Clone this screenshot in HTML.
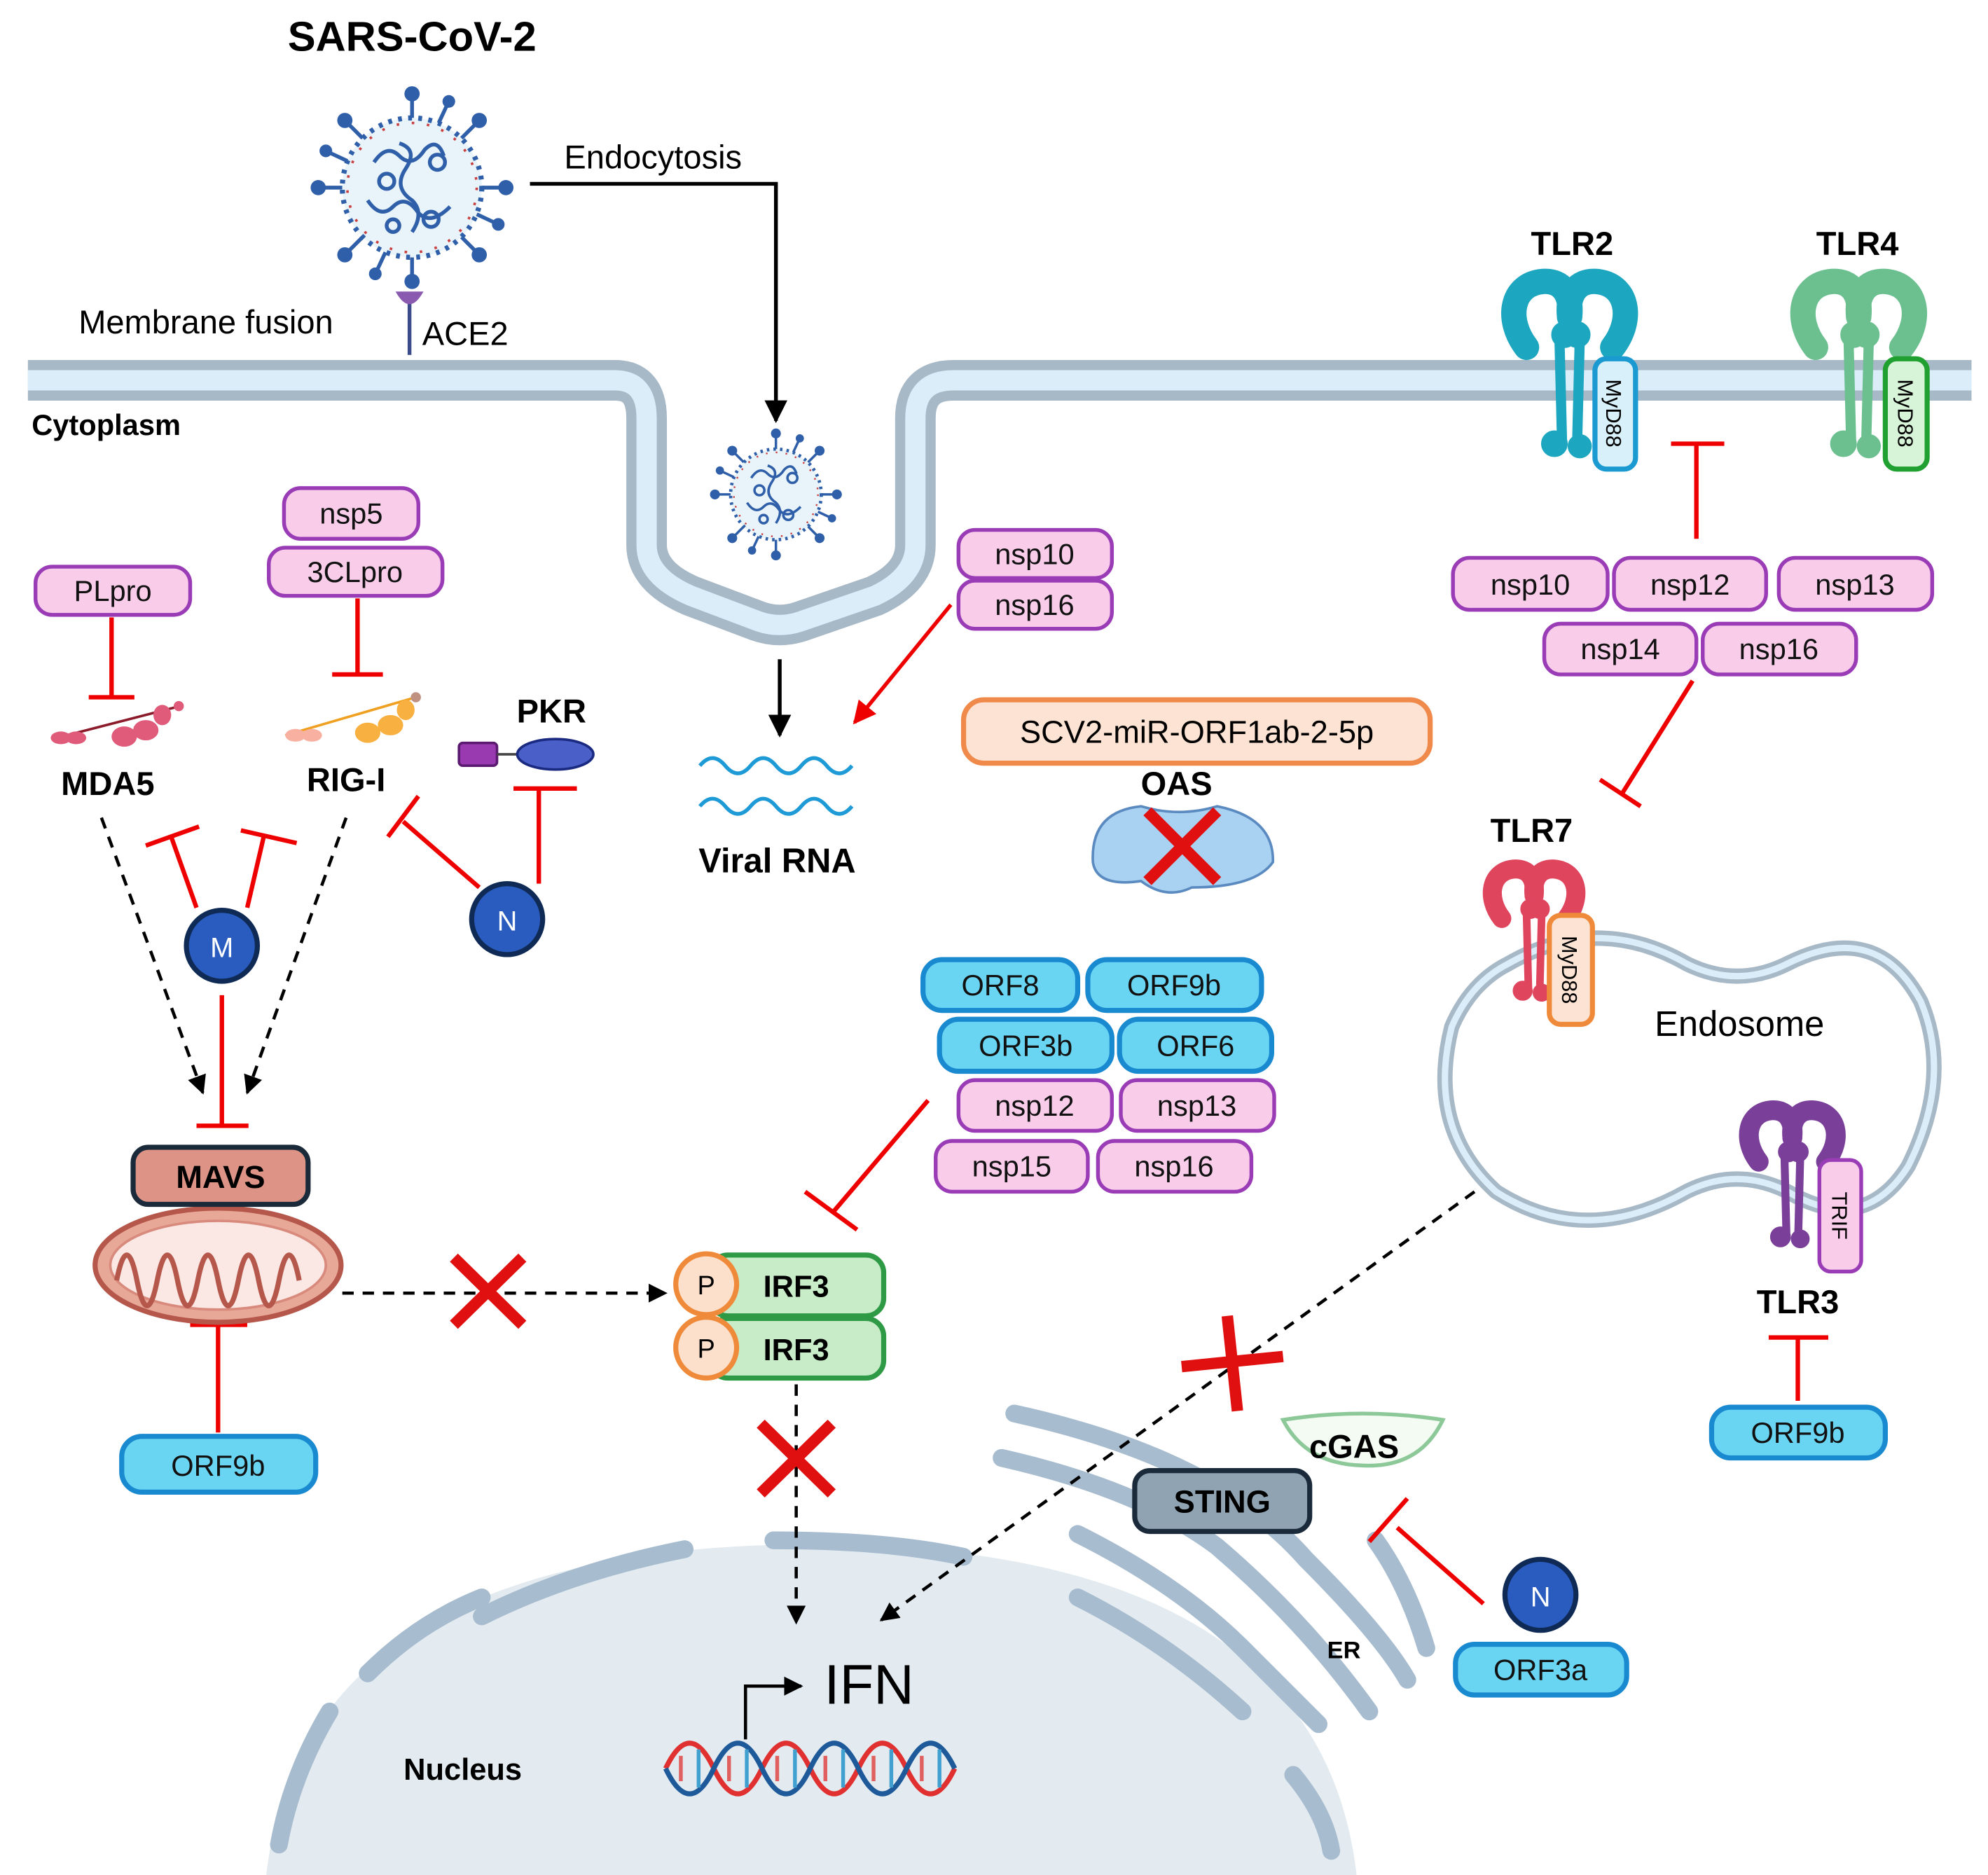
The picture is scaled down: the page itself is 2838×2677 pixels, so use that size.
<!DOCTYPE html>
<html><head><meta charset="utf-8"><style>
html,body{margin:0;padding:0;background:#fff}
svg{display:block}
text{font-family:"Liberation Sans",Arial,sans-serif}
.b{font-weight:bold}
</style></head><body>
<svg width="2838" height="2677" viewBox="0 0 1568 1479" preserveAspectRatio="none" xmlns="http://www.w3.org/2000/svg">
<defs>
<g id="tlr">
<path d="M22,62 C5,40 10,12 35,10 C50,9 58,20 56,38" fill="none" stroke-width="20" stroke-linecap="round"/>
<path d="M90,62 C107,40 102,12 77,10 C62,9 54,20 56,38" fill="none" stroke-width="20" stroke-linecap="round"/>
<circle cx="52" cy="52" r="10"/><circle cx="62" cy="52" r="10"/>
<path d="M48,55 L50,135 M64,55 L62,135" stroke-width="8" fill="none"/>
<circle cx="44" cy="138" r="10"/><circle cx="64" cy="140" r="9"/>
</g>
<marker id="ah" viewBox="0 0 10 10" refX="9" refY="5" markerWidth="6" markerHeight="6" orient="auto"><path d="M0,0 L10,5 L0,10z" fill="#000"/></marker>
<marker id="ahr" viewBox="0 0 10 10" refX="9" refY="5" markerWidth="6" markerHeight="6" orient="auto"><path d="M0,0 L10,5 L0,10z" fill="#e00"/></marker>
<g id="virus">
<g stroke="#2f5fa8" stroke-width="3">
<line x1="0" y1="-55" x2="0" y2="-72"/><line x1="0" y1="55" x2="0" y2="72"/><line x1="-55" y1="0" x2="-72" y2="0"/><line x1="55" y1="0" x2="72" y2="0"/>
<line x1="39" y1="39" x2="51" y2="51"/><line x1="-39" y1="39" x2="-51" y2="51"/><line x1="39" y1="-39" x2="51" y2="-51"/><line x1="-39" y1="-39" x2="-51" y2="-51"/>
<line x1="21" y1="-51" x2="28" y2="-66"/><line x1="-21" y1="51" x2="-28" y2="66"/><line x1="51" y1="21" x2="66" y2="28"/><line x1="-51" y1="-21" x2="-66" y2="-28"/>
</g>
<g fill="#2f5fa8">
<circle cx="0" cy="-74" r="6"/><circle cx="0" cy="74" r="6"/><circle cx="-74" cy="0" r="6"/><circle cx="74" cy="0" r="6"/>
<circle cx="53" cy="53" r="6"/><circle cx="-53" cy="53" r="6"/><circle cx="53" cy="-53" r="6"/><circle cx="-53" cy="-53" r="6"/>
<circle cx="29" cy="-68" r="5"/><circle cx="-29" cy="68" r="5"/><circle cx="68" cy="29" r="5"/><circle cx="-68" cy="-29" r="5"/>
</g>
<circle r="55" fill="#e8f3fa" stroke="#2f5fa8" stroke-width="4" stroke-dasharray="3 5"/>
<circle r="51" fill="none" stroke="#c94040" stroke-width="2" stroke-dasharray="2 10"/>
<g fill="none" stroke="#2f5fa8" stroke-width="3">
<path d="M-30,-20 q10,-15 20,-5 q10,10 20,-5 q10,-10 15,5"/>
<path d="M-35,10 q10,15 20,5 q10,-10 20,5 q10,10 25,-5"/>
<path d="M-10,-35 q15,5 5,20 q-10,15 5,25 q10,10 0,25"/>
<circle cx="-20" cy="-5" r="6"/><circle cx="20" cy="-20" r="6"/><circle cx="15" cy="25" r="6"/><circle cx="-15" cy="30" r="5"/>
</g>
</g>
</defs>

<!-- nucleus -->
<path d="M210,1479 Q240,1220 640,1218 Q1040,1220 1070,1479 Z" fill="#e3ebf0"/>
<g fill="none" stroke="#a7bccf" stroke-width="14" stroke-linecap="round">
<path d="M220,1455 Q230,1400 260,1350"/>
<path d="M290,1320 Q330,1280 380,1260"/>
<path d="M380,1275 Q450,1240 540,1222"/>
<path d="M610,1215 Q700,1215 760,1228"/>
<path d="M850,1260 Q920,1295 980,1350"/>
<path d="M1020,1400 Q1045,1430 1050,1460"/>
</g>
<!-- ER -->
<g fill="none" stroke="#a7bccf" stroke-width="14" stroke-linecap="round">
<path d="M800,1115 Q960,1150 1030,1230 Q1090,1290 1110,1325"/>
<path d="M790,1150 Q900,1175 960,1220 Q1030,1280 1080,1350"/>
<path d="M850,1210 Q930,1250 980,1300 Q1020,1340 1040,1360"/>
<path d="M1085,1215 Q1110,1250 1125,1300"/>
</g>

<!-- membrane -->
<path d="M22,300 H485 Q510,300 510,330 V430 Q510,455 545,470 L598,490 Q615,496 632,490 L690,470 Q722,455 722,430 V330 Q722,300 752,300 H1555" fill="none" stroke="#a7b8c6" stroke-width="32"/>
<path d="M22,300 H485 Q510,300 510,330 V430 Q510,455 545,470 L598,490 Q615,496 632,490 L690,470 Q722,455 722,430 V330 Q722,300 752,300 H1555" fill="none" stroke="#dcedfa" stroke-width="16"/>

<!-- endosome -->
<path d="M1190,760 Q1260,720 1330,760 Q1370,780 1410,760 Q1480,725 1515,790 Q1540,850 1505,920 Q1470,975 1410,940 Q1370,920 1330,940 Q1250,985 1180,940 Q1125,890 1145,810 Q1160,775 1190,760 Z" fill="#fff" stroke="#a7b8c6" stroke-width="12"/>
<path d="M1190,760 Q1260,720 1330,760 Q1370,780 1410,760 Q1480,725 1515,790 Q1540,850 1505,920 Q1470,975 1410,940 Q1370,920 1330,940 Q1250,985 1180,940 Q1125,890 1145,810 Q1160,775 1190,760 Z" fill="none" stroke="#dcedfa" stroke-width="5"/>
<text x="1372" y="817" font-size="28" text-anchor="middle">Endosome</text>

<!-- title / virus -->
<text x="325" y="40" font-size="33" class="b" text-anchor="middle">SARS-CoV-2</text>
<use href="#virus" transform="translate(325,148)"/>
<use href="#virus" transform="translate(612,390) scale(0.65)"/>
<text x="445" y="133" font-size="26">Endocytosis</text>
<path d="M418,145 H612 V332" fill="none" stroke="#000" stroke-width="3" marker-end="url(#ah)"/>
<text x="62" y="263" font-size="26">Membrane fusion</text>
<line x1="323" y1="238" x2="323" y2="280" stroke="#3a4a8a" stroke-width="3"/>
<path d="M312,230 Q323,250 334,230 Z" fill="#8a5ab0"/>
<text x="333" y="272" font-size="26">ACE2</text>
<text x="25" y="343" font-size="23" class="b">Cytoplasm</text>

<!-- left pills -->
<g stroke="#9b3cb7" stroke-width="3" fill="#f9cdea">
<rect x="224" y="385" width="106" height="40" rx="13"/>
<rect x="212" y="432" width="137" height="38" rx="13"/>
<rect x="28" y="447" width="122" height="38" rx="13"/>
<rect x="756" y="418" width="121" height="38" rx="13"/>
<rect x="756" y="458" width="121" height="38" rx="13"/>
<rect x="1146" y="440" width="122" height="41" rx="13"/>
<rect x="1273" y="440" width="120" height="41" rx="13"/>
<rect x="1403" y="440" width="121" height="41" rx="13"/>
<rect x="1218" y="492" width="120" height="40" rx="13"/>
<rect x="1343" y="492" width="121" height="40" rx="13"/>
<rect x="756" y="852" width="121" height="40" rx="13"/>
<rect x="884" y="852" width="121" height="40" rx="13"/>
<rect x="738" y="900" width="120" height="40" rx="13"/>
<rect x="866" y="900" width="121" height="40" rx="13"/>
</g>
<g font-size="23" text-anchor="middle" fill="#111">
<text x="277" y="413">nsp5</text>
<text x="280" y="459">3CLpro</text>
<text x="89" y="474">PLpro</text>
<text x="816" y="445">nsp10</text>
<text x="816" y="485">nsp16</text>
<text x="1207" y="469">nsp10</text>
<text x="1333" y="469">nsp12</text>
<text x="1463" y="469">nsp13</text>
<text x="1278" y="520">nsp14</text>
<text x="1403" y="520">nsp16</text>
<text x="816" y="880">nsp12</text>
<text x="944" y="880">nsp13</text>
<text x="798" y="928">nsp15</text>
<text x="926" y="928">nsp16</text>
</g>
<!-- cyan pills -->
<g stroke="#1a8ad0" stroke-width="4" fill="#6ad5f2">
<rect x="728" y="757" width="122" height="40" rx="15"/>
<rect x="858" y="757" width="137" height="40" rx="15"/>
<rect x="741" y="804" width="136" height="41" rx="15"/>
<rect x="883" y="804" width="120" height="41" rx="15"/>
<rect x="96" y="1133" width="153" height="44" rx="16"/>
<rect x="1350" y="1110" width="137" height="40" rx="15"/>
<rect x="1148" y="1297" width="135" height="40" rx="15"/>
</g>
<g font-size="23" text-anchor="middle" fill="#111">
<text x="789" y="785">ORF8</text>
<text x="926" y="785">ORF9b</text>
<text x="809" y="833">ORF3b</text>
<text x="943" y="833">ORF6</text>
<text x="172" y="1164">ORF9b</text>
<text x="1418" y="1138">ORF9b</text>
<text x="1215" y="1325">ORF3a</text>
</g>

<!-- MDA5 / RIG-I / PKR -->
<g stroke="#8b1a2a" stroke-width="2"><line x1="45" y1="582" x2="138" y2="558"/></g>
<g fill="#e05a7a"><ellipse cx="48" cy="582" rx="8" ry="5"/><ellipse cx="60" cy="582" rx="8" ry="5"/><ellipse cx="98" cy="581" rx="10" ry="8"/><ellipse cx="115" cy="576" rx="10" ry="8"/><ellipse cx="128" cy="564" rx="7" ry="8"/><circle cx="141" cy="557" r="4"/></g>
<line x1="225" y1="580" x2="328" y2="550" stroke="#f0a020" stroke-width="2"/>
<g fill="#f8b040"><ellipse cx="233" cy="580" rx="8" ry="5" fill="#f8b0a0"/><ellipse cx="246" cy="580" rx="8" ry="5" fill="#f8b0a0"/><ellipse cx="290" cy="578" rx="10" ry="8"/><ellipse cx="308" cy="572" rx="10" ry="8"/><ellipse cx="320" cy="560" rx="7" ry="8"/><circle cx="328" cy="550" r="4" fill="#c09080"/></g>
<text x="85" y="627" font-size="26" class="b" text-anchor="middle">MDA5</text>
<text x="273" y="624" font-size="26" class="b" text-anchor="middle">RIG-I</text>
<text x="435" y="570" font-size="26" class="b" text-anchor="middle">PKR</text>
<rect x="362" y="586" width="30" height="18" rx="3" fill="#9a3ab0" stroke="#5a1a70" stroke-width="2"/>
<line x1="392" y1="595" x2="410" y2="595" stroke="#444" stroke-width="2"/>
<ellipse cx="438" cy="595" rx="30" ry="12" fill="#4a5fc8" stroke="#1a2a80" stroke-width="2"/>

<!-- viral RNA -->
<line x1="615" y1="520" x2="615" y2="580" stroke="#000" stroke-width="3" marker-end="url(#ah)"/>
<path d="M552,604 q10,-12 20,0 t20,0 t20,0 t20,0 t20,0 t20,0" fill="none" stroke="#1e9ad6" stroke-width="3"/>
<path d="M552,636 q10,-12 20,0 t20,0 t20,0 t20,0 t20,0 t20,0" fill="none" stroke="#1e9ad6" stroke-width="3"/>
<text x="613" y="688" font-size="27" class="b" text-anchor="middle">Viral RNA</text>
<line x1="750" y1="477" x2="674" y2="570" stroke="#e00" stroke-width="3" marker-end="url(#ahr)"/>

<!-- SCV2 / OAS -->
<rect x="760" y="552" width="368" height="50" rx="16" fill="#fde3d4" stroke="#f08a4b" stroke-width="4"/>
<text x="944" y="586" font-size="25" text-anchor="middle">SCV2-miR-ORF1ab-2-5p</text>
<text x="928" y="627" font-size="26" class="b" text-anchor="middle">OAS</text>
<path d="M862,680 Q860,640 900,636 Q930,645 960,636 Q1005,645 1004,680 Q990,700 940,700 Q920,710 900,695 Q865,700 862,680 Z" fill="#a9d2f2" stroke="#5a8ac0" stroke-width="2"/>
<g stroke="#e01010" stroke-width="9"><line x1="905" y1="640" x2="960" y2="695"/><line x1="960" y1="640" x2="905" y2="695"/></g>

<!-- inhibitions red -->
<g stroke="#e00" stroke-width="3.5" fill="none">
<path d="M88,487 V550 M70,550 H106"/>
<path d="M282,472 V532 M262,532 H302"/>
<path d="M155,716 L135,660 M115,667 L157,652"/>
<path d="M195,716 L208,660 M190,655 L234,665"/>
<path d="M175,785 V888 M155,888 H196"/>
<path d="M378,700 L318,648 M306,660 L330,628"/>
<path d="M425,697 V622 M405,622 H455"/>
<path d="M172,1130 V1045 M150,1045 H195"/>
<path d="M732,868 L658,955 M635,940 L676,970"/>
<path d="M1338,425 V350 M1318,350 H1360"/>
<path d="M1335,537 L1280,625 M1262,615 L1294,636"/>
<path d="M1418,1105 V1055 M1395,1055 H1442"/>
<path d="M1170,1265 L1102,1205 M1080,1216 L1110,1182"/>
</g>

<!-- dashed arrows -->
<g stroke="#000" stroke-width="2.5" stroke-dasharray="9 7" fill="none">
<line x1="80" y1="645" x2="160" y2="862" marker-end="url(#ah)"/>
<line x1="273" y1="645" x2="195" y2="862" marker-end="url(#ah)"/>
<line x1="270" y1="1020" x2="525" y2="1020" marker-end="url(#ah)"/>
<line x1="628" y1="1092" x2="628" y2="1280" marker-end="url(#ah)"/>
<line x1="1163" y1="940" x2="695" y2="1278" marker-end="url(#ah)"/>
</g>

<!-- M & N -->
<circle cx="175" cy="746" r="28" fill="#2a5cbf" stroke="#0e2a55" stroke-width="4"/>
<text x="175" y="755" font-size="22" fill="#fff" text-anchor="middle">M</text>
<circle cx="400" cy="725" r="28" fill="#2a5cbf" stroke="#0e2a55" stroke-width="4"/>
<text x="400" y="734" font-size="22" fill="#fff" text-anchor="middle">N</text>
<circle cx="1215" cy="1258" r="28" fill="#2a5cbf" stroke="#0e2a55" stroke-width="4"/>
<text x="1215" y="1267" font-size="22" fill="#fff" text-anchor="middle">N</text>

<!-- MAVS & mito -->
<ellipse cx="172" cy="998" rx="97" ry="45" fill="#e8a898" stroke="#b5574a" stroke-width="4"/>
<ellipse cx="172" cy="998" rx="85" ry="35" fill="#fbe8e4" stroke="#d88a7c" stroke-width="2"/>
<path d="M92,1010 q8,-40 16,0 t16,0 t16,0 t16,0 t16,0 t16,0 t16,0 t16,0 t16,0" fill="none" stroke="#b5574a" stroke-width="4"/>
<rect x="105" y="905" width="138" height="45" rx="12" fill="#dd9486" stroke="#1a2a3a" stroke-width="4"/>
<text x="174" y="937" font-size="25" class="b" text-anchor="middle">MAVS</text>
<g stroke="#e01010" stroke-width="9"><line x1="358" y1="992" x2="412" y2="1045"/><line x1="412" y1="992" x2="358" y2="1045"/></g>

<!-- IRF3 -->
<rect x="560" y="990" width="137" height="48" rx="14" fill="#c8ecc8" stroke="#2e9a45" stroke-width="4"/>
<rect x="560" y="1040" width="137" height="47" rx="14" fill="#c8ecc8" stroke="#2e9a45" stroke-width="4"/>
<text x="628" y="1023" font-size="24" class="b" text-anchor="middle">IRF3</text>
<text x="628" y="1073" font-size="24" class="b" text-anchor="middle">IRF3</text>
<circle cx="557" cy="1013" r="24" fill="#fde0cc" stroke="#f08a3b" stroke-width="4"/>
<circle cx="557" cy="1063" r="24" fill="#fde0cc" stroke="#f08a3b" stroke-width="4"/>
<text x="557" y="1021" font-size="21" text-anchor="middle">P</text>
<text x="557" y="1071" font-size="21" text-anchor="middle">P</text>
<g stroke="#e01010" stroke-width="9"><line x1="600" y1="1123" x2="656" y2="1178"/><line x1="656" y1="1123" x2="600" y2="1178"/></g>

<!-- TLRs -->
<use href="#tlr" fill="#1ca6bf" stroke="#1ca6bf" transform="translate(1182,212)"/>
<use href="#tlr" fill="#6cc090" stroke="#6cc090" transform="translate(1410,212)"/>
<use href="#tlr" fill="#e0455e" stroke="#e0455e" transform="translate(1168,678) scale(0.75)"/>
<use href="#tlr" fill="#7a3f98" stroke="#7a3f98" transform="translate(1370,868) scale(0.78)"/>
<text x="1240" y="201" font-size="26" class="b" text-anchor="middle">TLR2</text>
<text x="1465" y="201" font-size="26" class="b" text-anchor="middle">TLR4</text>
<text x="1208" y="664" font-size="26" class="b" text-anchor="middle">TLR7</text>
<text x="1418" y="1036" font-size="26" class="b" text-anchor="middle">TLR3</text>
<rect x="1258" y="283" width="32" height="87" rx="9" fill="#d8f0fa" stroke="#1a9ad0" stroke-width="4"/>
<rect x="1487" y="283" width="33" height="87" rx="9" fill="#d8f4d8" stroke="#20a030" stroke-width="4"/>
<rect x="1222" y="722" width="34" height="86" rx="9" fill="#fde3d4" stroke="#f08a3b" stroke-width="4"/>
<rect x="1435" y="915" width="33" height="88" rx="9" fill="#f9cdea" stroke="#9b3cb7" stroke-width="3"/>
<g font-size="17" text-anchor="middle">
<text transform="translate(1267,326) rotate(90)">MyD88</text>
<text transform="translate(1497,326) rotate(90)">MyD88</text>
<text transform="translate(1232,765) rotate(90)">MyD88</text>
<text transform="translate(1445,959) rotate(90)">TRIF</text>
</g>

<!-- tilted cross -->
<g stroke="#e01010" stroke-width="9"><line x1="932" y1="1078" x2="1012" y2="1070"/><line x1="968" y1="1038" x2="976" y2="1113"/></g>

<!-- cGAS / STING -->
<path d="M1012,1120 Q1075,1110 1138,1120 Q1120,1158 1075,1156 Q1030,1155 1012,1120 Z" fill="#f3fbf3" stroke="#8cc898" stroke-width="3"/>
<text x="1068" y="1150" font-size="26" class="b" text-anchor="middle">cGAS</text>
<rect x="895" y="1160" width="138" height="48" rx="12" fill="#8fa3b3" stroke="#1a2a3a" stroke-width="4"/>
<text x="964" y="1193" font-size="25" class="b" text-anchor="middle">STING</text>
<text x="1060" y="1308" font-size="19" class="b" text-anchor="middle">ER</text>

<!-- IFN -->
<path d="M588,1372 V1330 H632" fill="none" stroke="#000" stroke-width="2.5" marker-end="url(#ah)"/>
<text x="650" y="1344" font-size="44">IFN</text>
<g stroke-width="4" fill="none">
<path d="M525,1395 q19,-40 38,0 t38,0 t38,0 t38,0 t38,0 t38,0" stroke="#e03030"/>
<path d="M525,1395 q19,40 38,0 t38,0 t38,0 t38,0 t38,0 t38,0" stroke="#1e5a9a"/>
</g>
<g stroke-width="3">
<line x1="537" y1="1385" x2="537" y2="1405" stroke="#e06060"/><line x1="551" y1="1380" x2="551" y2="1410" stroke="#40a0d0"/>
<line x1="575" y1="1385" x2="575" y2="1405" stroke="#e06060"/><line x1="589" y1="1380" x2="589" y2="1410" stroke="#40a0d0"/>
<line x1="613" y1="1385" x2="613" y2="1405" stroke="#e06060"/><line x1="627" y1="1380" x2="627" y2="1410" stroke="#40a0d0"/>
<line x1="651" y1="1385" x2="651" y2="1405" stroke="#e06060"/><line x1="665" y1="1380" x2="665" y2="1410" stroke="#40a0d0"/>
<line x1="689" y1="1385" x2="689" y2="1405" stroke="#e06060"/><line x1="703" y1="1380" x2="703" y2="1410" stroke="#40a0d0"/>
<line x1="727" y1="1385" x2="727" y2="1405" stroke="#e06060"/><line x1="741" y1="1380" x2="741" y2="1410" stroke="#40a0d0"/>
</g>
<text x="365" y="1404" font-size="24" class="b" text-anchor="middle">Nucleus</text>
</svg>
</body></html>
